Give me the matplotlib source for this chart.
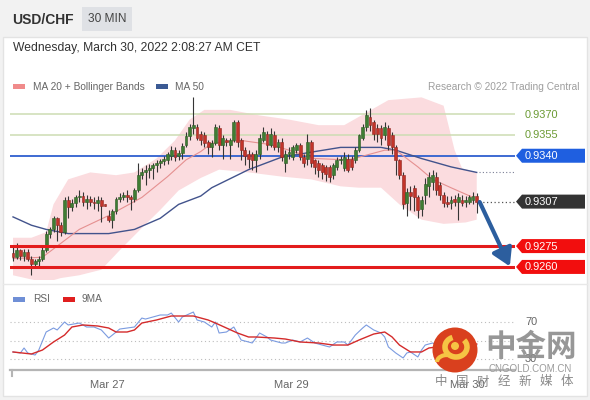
import matplotlib
matplotlib.use("Agg")
import matplotlib.pyplot as plt
from matplotlib.patches import Rectangle, Polygon, Circle, Arc

plt.rcParams['font.family'] = ['Liberation Sans', 'DejaVu Sans']

# ---------------- data ----------------
symbol = "USD/CHF"
timeframe = "30 MIN"
timestamp = "Wednesday, March 30, 2022 2:08:27 AM CET"

opens = [0.9270, 0.9267, 0.9272, 0.9268, 0.9271, 0.9266, 0.9262, 0.9264, 0.9266, 0.9272,
         0.9284, 0.9287, 0.9295, 0.9290, 0.9285, 0.9308, 0.9303, 0.9306, 0.9310, 0.9311,
         0.9307, 0.9309, 0.9307, 0.9306, 0.9308, 0.9305, 0.9297, 0.9294, 0.9300, 0.9309,
         0.9310, 0.9312, 0.9310, 0.9309, 0.9315, 0.9326, 0.9328, 0.9330, 0.9331, 0.9333,
         0.9335, 0.9336, 0.9337, 0.9340, 0.9344, 0.9340, 0.9342, 0.9348, 0.9354, 0.9360,
         0.9361, 0.9356, 0.9355, 0.9350, 0.9346, 0.9349, 0.9360, 0.9348, 0.9351, 0.9348,
         0.9351, 0.9364, 0.9351, 0.9344, 0.9341, 0.9341, 0.9337, 0.9341, 0.9351, 0.9356,
         0.9348, 0.9355, 0.9346, 0.9350, 0.9335, 0.9341, 0.9339, 0.9344, 0.9348, 0.9339,
         0.9338, 0.9350, 0.9337, 0.9335, 0.9333, 0.9332, 0.9332, 0.9326, 0.9332, 0.9337,
         0.9331, 0.9338, 0.9338, 0.9337, 0.9344, 0.9353, 0.9361, 0.9368, 0.9364, 0.9360,
         0.9360, 0.9355, 0.9360, 0.9355, 0.9346, 0.9337, 0.9326, 0.9306, 0.9314, 0.9317,
         0.9310, 0.9302, 0.9312, 0.9318, 0.9321, 0.9325, 0.9319, 0.9312, 0.9307, 0.9306,
         0.9309, 0.9307, 0.9308, 0.9307, 0.9307, 0.9308, 0.9311]
highs = [0.9274, 0.9277, 0.9273, 0.9273, 0.9273, 0.9268, 0.9266, 0.9268, 0.9274, 0.9286,
         0.9289, 0.9297, 0.9296, 0.9292, 0.9310, 0.9311, 0.9309, 0.9312, 0.9315, 0.9314,
         0.9312, 0.9311, 0.9310, 0.9311, 0.9310, 0.9305, 0.9301, 0.9302, 0.9310, 0.9313,
         0.9314, 0.9315, 0.9312, 0.9317, 0.9335, 0.9331, 0.9333, 0.9334, 0.9335, 0.9337,
         0.9338, 0.9340, 0.9343, 0.9347, 0.9346, 0.9344, 0.9349, 0.9357, 0.9363, 0.9382,
         0.9363, 0.9358, 0.9357, 0.9351, 0.9351, 0.9363, 0.9362, 0.9355, 0.9353, 0.9353,
         0.9366, 0.9366, 0.9353, 0.9346, 0.9344, 0.9343, 0.9344, 0.9356, 0.9361, 0.9358,
         0.9360, 0.9358, 0.9352, 0.9353, 0.9344, 0.9346, 0.9348, 0.9349, 0.9349, 0.9341,
         0.9356, 0.9351, 0.9338, 0.9337, 0.9335, 0.9333, 0.9333, 0.9335, 0.9339, 0.9340,
         0.9343, 0.9341, 0.9340, 0.9346, 0.9356, 0.9363, 0.9373, 0.9374, 0.9366, 0.9363,
         0.9362, 0.9364, 0.9362, 0.9357, 0.9348, 0.9338, 0.9328, 0.9317, 0.9318, 0.9319,
         0.9312, 0.9311, 0.9324, 0.9328, 0.9330, 0.9328, 0.9321, 0.9314, 0.9311, 0.9311,
         0.9312, 0.9313, 0.9312, 0.9311, 0.9312, 0.9314, 0.9313]
lows = [0.9264, 0.9266, 0.9265, 0.9264, 0.9264, 0.9254, 0.9259, 0.9261, 0.9264, 0.9271,
        0.9281, 0.9285, 0.9279, 0.9282, 0.9284, 0.9295, 0.9300, 0.9303, 0.9307, 0.9304,
        0.9302, 0.9304, 0.9302, 0.9300, 0.9292, 0.9304, 0.9292, 0.9288, 0.9298, 0.9307,
        0.9308, 0.9307, 0.9301, 0.9307, 0.9314, 0.9323, 0.9319, 0.9324, 0.9323, 0.9328,
        0.9331, 0.9333, 0.9334, 0.9337, 0.9336, 0.9337, 0.9338, 0.9346, 0.9351, 0.9356,
        0.9351, 0.9348, 0.9346, 0.9341, 0.9339, 0.9348, 0.9344, 0.9338, 0.9347, 0.9338,
        0.9350, 0.9346, 0.9337, 0.9333, 0.9331, 0.9330, 0.9328, 0.9338, 0.9350, 0.9344,
        0.9346, 0.9344, 0.9343, 0.9336, 0.9328, 0.9338, 0.9337, 0.9342, 0.9337, 0.9332,
        0.9333, 0.9332, 0.9327, 0.9325, 0.9323, 0.9322, 0.9321, 0.9323, 0.9330, 0.9334,
        0.9329, 0.9328, 0.9330, 0.9335, 0.9343, 0.9351, 0.9358, 0.9358, 0.9351, 0.9350,
        0.9348, 0.9351, 0.9344, 0.9341, 0.9326, 0.9323, 0.9302, 0.9297, 0.9301, 0.9300,
        0.9295, 0.9297, 0.9305, 0.9310, 0.9315, 0.9312, 0.9308, 0.9303, 0.9303, 0.9302,
        0.9304, 0.9294, 0.9304, 0.9303, 0.9305, 0.9305, 0.9299]
closes = [0.9267, 0.9272, 0.9268, 0.9271, 0.9266, 0.9262, 0.9264, 0.9266, 0.9272, 0.9284,
          0.9287, 0.9295, 0.9290, 0.9285, 0.9308, 0.9303, 0.9306, 0.9310, 0.9311, 0.9307,
          0.9309, 0.9307, 0.9306, 0.9308, 0.9304, 0.9304, 0.9294, 0.9300, 0.9309, 0.9310,
          0.9312, 0.9310, 0.9309, 0.9315, 0.9326, 0.9328, 0.9330, 0.9331, 0.9333, 0.9335,
          0.9336, 0.9338, 0.9341, 0.9344, 0.9339, 0.9342, 0.9347, 0.9354, 0.9361, 0.9362,
          0.9353, 0.9351, 0.9349, 0.9346, 0.9349, 0.9361, 0.9348, 0.9353, 0.9350, 0.9351,
          0.9364, 0.9350, 0.9344, 0.9340, 0.9338, 0.9337, 0.9341, 0.9353, 0.9357, 0.9348,
          0.9356, 0.9346, 0.9350, 0.9339, 0.9341, 0.9343, 0.9346, 0.9348, 0.9339, 0.9335,
          0.9350, 0.9335, 0.9332, 0.9330, 0.9328, 0.9327, 0.9325, 0.9333, 0.9337, 0.9338,
          0.9339, 0.9330, 0.9332, 0.9344, 0.9355, 0.9361, 0.9369, 0.9362, 0.9356, 0.9356,
          0.9353, 0.9361, 0.9348, 0.9346, 0.9337, 0.9326, 0.9305, 0.9314, 0.9311, 0.9310,
          0.9301, 0.9308, 0.9320, 0.9325, 0.9326, 0.9315, 0.9312, 0.9306, 0.9305, 0.9308,
          0.9307, 0.9310, 0.9306, 0.9308, 0.9310, 0.9311, 0.9307]

ma20_idx = [0, 8, 18, 26, 35, 42, 47, 51, 54, 62, 70, 75, 82, 91, 94, 101, 104, 110, 114, 119, 125]
ma20 = [0.9266, 0.9267, 0.9287, 0.9297, 0.9310, 0.9325, 0.9337, 0.9343, 0.9349, 0.9351, 0.9348,
        0.9344, 0.9338, 0.9337, 0.9339, 0.9344, 0.9344, 0.9332, 0.9323, 0.9317, 0.9310]
ma50_idx = [0, 5, 9, 15, 20, 26, 33, 40, 45, 51, 54, 64, 73, 82, 89, 100, 104, 111, 119, 126]
ma50 = [0.9296, 0.9290, 0.9287, 0.9284, 0.9284, 0.9284, 0.9287, 0.9295, 0.9305, 0.9311,
        0.9317, 0.9330, 0.9339, 0.9343, 0.9346, 0.9346, 0.9344, 0.9338, 0.9332, 0.9328]
bb_up_idx = [0, 5, 9, 11, 15, 21, 28, 33, 39, 44, 48, 52, 59, 67, 75, 83, 90, 96, 102, 111, 117, 120, 122, 126]
bb_up = [0.9281, 0.9281, 0.9285, 0.9305, 0.9323, 0.9328, 0.9326, 0.9328, 0.9338, 0.9351, 0.9366, 0.9373,
         0.9373, 0.9369, 0.9366, 0.9362, 0.9362, 0.9371, 0.9380, 0.9382, 0.9376, 0.9344, 0.9331, 0.9328]
bb_lo_idx = [0, 5, 9, 13, 18, 24, 29, 35, 40, 45, 51, 56, 64, 73, 81, 89, 94, 100, 105, 111, 117, 123, 126]
bb_lo = [0.9254, 0.9251, 0.9249, 0.9252, 0.9254, 0.9258, 0.9272, 0.9288, 0.9301, 0.9315, 0.9324, 0.9330,
         0.9328, 0.9325, 0.9323, 0.9318, 0.9317, 0.9317, 0.9305, 0.9294, 0.9291, 0.9292, 0.9294]

resistances = [0.9370, 0.9355]
pivot = 0.9340
supports = [0.9275, 0.9260]

rsi_idx = [0, 2, 3, 4, 6, 7, 9, 11, 12, 14, 15, 18, 20, 22, 24, 26, 27, 29, 31, 33, 35, 36, 38, 40,
           42, 43, 45, 46, 49, 50, 52, 54, 55, 56, 58, 60, 62, 64, 65, 67, 69, 70, 73, 74, 76, 78,
           80, 82, 84, 86, 88, 90, 91, 93, 95, 96, 98, 100, 101, 102, 104, 106, 107, 108, 110, 111,
           112, 114, 116, 120, 123, 126]
rsi = [37.6, 36.5, 41.9, 36.5, 34.3, 39.7, 59.2, 63.5, 61.4, 70.0, 66.8, 68.9, 64.6, 64.6, 61.4,
       52.7, 55.9, 62.4, 63.5, 64.6, 74.3, 73.2, 75.4, 77.6, 77.6, 79.7, 70.0, 75.4, 80.8, 72.2,
       70.0, 64.6, 70.0, 58.1, 59.2, 64.6, 50.5, 48.4, 47.3, 58.1, 53.8, 50.5, 47.3, 47.3, 50.5,
       48.4, 52.7, 47.3, 45.1, 43.0, 48.4, 48.4, 45.1, 55.9, 63.5, 66.8, 61.4, 58.1, 53.8, 43.0,
       36.5, 31.1, 36.5, 37.6, 32.2, 39.7, 45.1, 47.3, 44.1, 46.2, 47.3, 45.1]
rsi_ma_idx = [0, 5, 8, 11, 14, 16, 19, 23, 26, 28, 31, 33, 35, 39, 43, 47, 49, 53, 55, 58, 61, 64,
              66, 71, 74, 78, 83, 87, 91, 94, 98, 101, 103, 105, 108, 111, 113, 119, 126]
rsi_ma = [37.6, 35.4, 39.7, 48.4, 55.9, 64.6, 66.8, 65.7, 63.5, 59.2, 59.2, 61.4, 68.9, 72.2, 76.5,
          76.5, 76.5, 72.2, 68.9, 63.5, 58.1, 53.8, 53.8, 52.7, 51.6, 48.4, 47.3, 45.1, 45.1, 50.5,
          57.0, 59.2, 53.8, 45.1, 37.6, 37.6, 41.9, 45.1, 46.2]
rsi_levels = [70, 50, 30]
rsi_labels = [70, 30]

day_pos = [25.5, 75.5, 123.5]
day_labels = ["Mar 27", "Mar 29", "Mar 30"]

# ---------------- figure ----------------
W, H = 590, 400
fig = plt.figure(figsize=(W / 100, H / 100), dpi=100)
fig.patch.set_facecolor('#f2f2f2')

bg = fig.add_axes([0, 0, 1, 1])
bg.set_xlim(0, W)
bg.set_ylim(H, 0)
bg.axis('off')
bg.add_patch(Rectangle((3, 37), 584, 359, facecolor='white', edgecolor='#e3e3e3', lw=1))
bg.plot([3, 587], [284, 284], color='#e8e8e8', lw=1)

# header
bg.text(12, 19.5, symbol, fontsize=10, fontweight='bold', color='#333333', va='center')
bg.add_patch(Rectangle((82, 7), 50, 24, facecolor='#dfe1e5', edgecolor='none'))
bg.text(107, 19.5, timeframe, fontsize=8.6, color='#444444', ha='center', va='center')
bg.text(13, 48.5, timestamp, fontsize=8.7, color='#333333', va='center')

# legends
bg.add_patch(Rectangle((13, 84), 12, 5, facecolor='#f08b8b', edgecolor='none'))
bg.text(33, 86.5, "MA 20 + Bollinger Bands", fontsize=7.3, color='#666666', va='center')
bg.add_patch(Rectangle((156, 84), 12, 5, facecolor='#3b5a94', edgecolor='none'))
bg.text(175, 86.5, "MA 50", fontsize=7.3, color='#666666', va='center')
bg.text(580, 86.5, "Research \u00a9 2022 Trading Central", fontsize=7.3, color='#9e9e9e',
        ha='right', va='center')
bg.add_patch(Rectangle((13, 297), 12, 5, facecolor='#6f8fd6', edgecolor='none'))
bg.text(33, 299.5, "RSI", fontsize=7.3, color='#666666', va='center')
bg.add_patch(Rectangle((63, 297), 12, 5, facecolor='#e01f1f', edgecolor='none'))
bg.text(82, 299.5, "9MA", fontsize=7.3, color='#666666', va='center')

# main price axes
n = len(closes)
xs = list(range(n))
XL = (-0.82, 136.4)
ax = fig.add_axes([10 / W, 1 - 280 / H, 505 / W, 185 / H])
ax.set_xlim(*XL)
ax.set_ylim(0.92506, 0.93837)
ax.axis('off')
ax.patch.set_alpha(0)

band = list(zip(bb_up_idx, bb_up)) + list(zip(bb_lo_idx[::-1], bb_lo[::-1]))
ax.add_patch(Polygon(band, closed=True, facecolor='#fbdcdf', edgecolor='none', zorder=1))

for r in resistances:
    ax.axhline(r, color='#cddcb3', lw=1.1, zorder=2)
ax.axhline(pivot, color='#2f5fcf', lw=1.3, zorder=2)

ax.plot(ma50_idx, ma50, color='#42538c', lw=1.0, zorder=2.5)
ax.plot(ma20_idx, ma20, color='#e59090', lw=0.8, zorder=2.5)

ax.vlines(xs, lows, highs, color='#353535', lw=0.8, zorder=3)
bottoms = [min(o, c) for o, c in zip(opens, closes)]
heights = [max(abs(c - o), 0.00004) for o, c in zip(opens, closes)]
cols = ['#3f7d33' if c >= o else '#c2342a' for o, c in zip(opens, closes)]
edges = ['#2c5a24' if c >= o else '#8e2620' for o, c in zip(opens, closes)]
ax.bar(xs, heights, bottom=bottoms, width=0.78, color=cols, edgecolor=edges, lw=0.4, zorder=3.5)

for s in supports:
    ax.axhline(s, color='#e31c1c', lw=2.2, zorder=4)

ax.hlines(closes[-1], n - 0.4, XL[1], colors='#555555', linestyles=(0, (1, 2)), lw=0.9, zorder=2)
ax.hlines(ma50[-1], n - 0.4, XL[1], colors='#7a7f95', linestyles=(0, (1, 2)), lw=0.8, zorder=2)

ax.annotate('', xy=(135.0, supports[1] + 0.00004), xytext=(n - 0.2, closes[-1] - 0.00003),
            arrowprops=dict(arrowstyle='-|>,head_length=0.75,head_width=0.45', color='#2c5e9e',
                            lw=3.0, mutation_scale=14, shrinkA=0, shrinkB=0),
            annotation_clip=False, zorder=6)


def ypx(axis, v):
    return H - axis.transData.transform((0, v))[1]


def tag(v, fc):
    y = ypx(ax, v)
    bg.add_patch(Polygon([(516, y), (522, y - 7), (585, y - 7), (585, y + 7), (522, y + 7)],
                         closed=True, facecolor=fc, edgecolor='none', zorder=5))
    bg.text(525, y + 0.5, f"{v:.4f}", fontsize=7.9, color='white', va='center', zorder=6)


for r in resistances:
    bg.text(525, ypx(ax, r) + 0.5, f"{r:.4f}", fontsize=7.9, color='#6b9a33', va='center')
tag(pivot, '#1f5fe0')
tag(closes[-1], '#333333')
for s in supports:
    tag(s, '#f20e0e')

# RSI axes
rax = fig.add_axes([10 / W, 1 - 370 / H, 505 / W, 65 / H])
rax.set_xlim(*XL)
rax.set_ylim(18.1, 88.4)
rax.patch.set_alpha(0)
for lv in rsi_levels:
    rax.axhline(lv, color='#bdbdbd', lw=0.8, ls=(0, (1, 2.5)))
rax.plot(rsi_idx, rsi, color='#7b9be0', lw=0.8)
rax.plot(rsi_ma_idx, rsi_ma, color='#d42b2b', lw=1.0)
for sp in ['top', 'left', 'right']:
    rax.spines[sp].set_visible(False)
rax.spines['bottom'].set_color('#b5b5b5')
rax.spines['bottom'].set_linewidth(1.6)
rax.set_yticks([])
rax.set_xticks(day_pos)
rax.set_xticklabels(day_labels, fontsize=8, color='#666666')
rax.tick_params(axis='x', length=0, pad=7)
bg.plot([12, 12], [370, 376], color='#b5b5b5', lw=1.5)
for lv in rsi_labels:
    bg.text(525, ypx(rax, lv), str(lv), fontsize=7.9, color='#666666', va='center')

# watermark overlay
top = fig.add_axes([0, 0, 1, 1])
top.set_xlim(0, W)
top.set_ylim(H, 0)
top.axis('off')
top.patch.set_alpha(0)
top.add_patch(Circle((455, 350), 22.5, facecolor='#d9401e', edgecolor='none'))
top.add_patch(Arc((456, 347), 22, 20, theta1=-40, theta2=250, color='#f6c444', lw=4))
top.add_patch(Circle((455, 346), 4, facecolor='#f6c444', edgecolor='none'))
top.add_patch(Arc((447, 362), 20, 14, theta1=180, theta2=330, color='#f6c444', lw=3))
top.text(531, 347, "中金网", fontsize=22, fontweight='bold', color='#8c8c8c', ha='center',
         va='center', family=['Noto Sans CJK SC'], alpha=0.9)
top.text(530, 369, "CNGOLD.COM.CN", fontsize=7, color='#9a9a9a', ha='center', va='center')
for k, ch in enumerate("中国财经新媒体"):
    top.text(441 + 21 * k, 382, ch, fontsize=9, color='#8a8a8a', ha='center', va='center',
             family=['Noto Sans CJK SC'])

fig.savefig("out.png", dpi=100, facecolor=fig.get_facecolor())
